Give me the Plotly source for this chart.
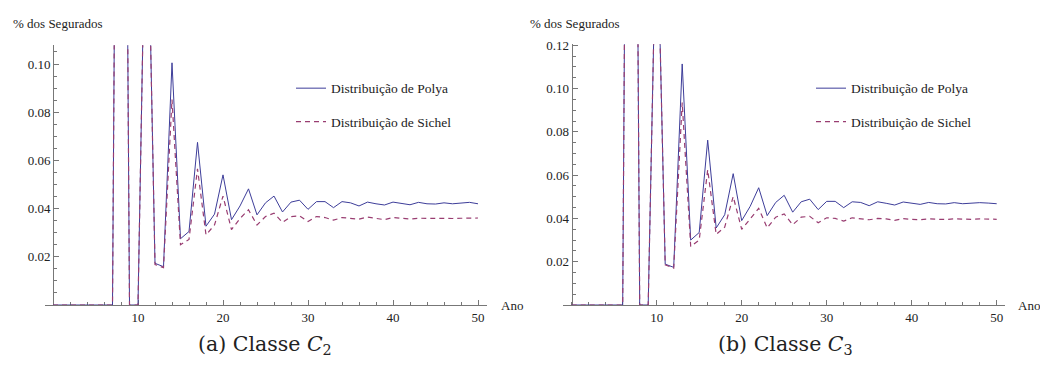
import plotly.graph_objects as go

# ---------------- data ----------------
anos = list(range(0, 51))

polya_c2 = [0, 0, 0, 0, 0, 0, 0, 0, 0.53, 0, 0, 0.195, 0.0173, 0.0159, 0.1005,
            0.0275, 0.0305, 0.0675, 0.0327, 0.0377, 0.054, 0.0354, 0.0411, 0.0482,
            0.0374, 0.0424, 0.0452, 0.0386, 0.0427, 0.0435, 0.0397, 0.0429, 0.0429,
            0.0404, 0.0429, 0.0424, 0.0411, 0.0427, 0.042, 0.0415, 0.0427, 0.0422,
            0.0416, 0.0426, 0.042, 0.0419, 0.0424, 0.042, 0.0422, 0.0426, 0.042]

sichel_c2 = [0, 0, 0, 0, 0, 0, 0, 0, 0.53, 0, 0, 0.195, 0.0168, 0.0155, 0.0853,
             0.025, 0.0272, 0.0565, 0.0291, 0.0332, 0.0452, 0.0313, 0.0359, 0.0395,
             0.0332, 0.0367, 0.0381, 0.0343, 0.0367, 0.037, 0.0346, 0.0367, 0.0363,
             0.0352, 0.0363, 0.036, 0.0356, 0.0365, 0.036, 0.0354, 0.0363, 0.0359,
             0.0357, 0.036, 0.0359, 0.0359, 0.036, 0.0359, 0.036, 0.0361, 0.0361]

polya_c3 = [0, 0, 0, 0, 0, 0, 0, 0.6, 0, 0, 0.19, 0.0189, 0.0174, 0.1114,
            0.030, 0.0335, 0.0762, 0.0356, 0.0417, 0.0607, 0.039, 0.0456, 0.0542,
            0.0413, 0.0474, 0.0507, 0.0429, 0.0477, 0.0489, 0.0441, 0.0479, 0.0479,
            0.045, 0.0477, 0.0474, 0.0459, 0.0477, 0.047, 0.0462, 0.0476, 0.0471,
            0.0465, 0.0474, 0.0468, 0.0467, 0.0473, 0.0468, 0.047, 0.0473, 0.0471, 0.0468]

sichel_c3 = [0, 0, 0, 0, 0, 0, 0, 0.6, 0, 0, 0.19, 0.0186, 0.017, 0.0936,
             0.027, 0.030, 0.0625, 0.0326, 0.036, 0.0501, 0.035, 0.0398, 0.0447,
             0.0356, 0.0406, 0.0421, 0.0371, 0.0406, 0.041, 0.038, 0.0403, 0.04,
             0.0388, 0.0403, 0.0398, 0.0394, 0.04, 0.0398, 0.0391, 0.0399, 0.0396,
             0.0394, 0.0398, 0.0395, 0.0395, 0.0398, 0.0396, 0.0396, 0.0398, 0.0396, 0.0396]

x_ticks = [10, 20, 30, 40, 50]
y_ticks_c2 = [0.02, 0.04, 0.06, 0.08, 0.10]
y_ticks_c3 = [0.02, 0.04, 0.06, 0.08, 0.10, 0.12]

# ---------------- layout helpers ----------------
W, H = 1040, 365
def px(x):
    return x / W
def py(y):
    return 1 - y / H

BLUE = "rgb(61,61,153)"
PURPLE = "rgb(153,61,113)"
AXC = "#777777"
TXT = "#222222"
SERIF = "'Liberation Serif', 'Times New Roman', Times, serif"
CAPF = "'DejaVu Serif', serif"

fig = go.Figure()

fig.add_trace(go.Scatter(x=anos, y=polya_c2, mode="lines", name="Distribuição de Polya",
                         line=dict(color=BLUE, width=1), xaxis="x", yaxis="y",
                         legend="legend", legendgroup="a1"))
fig.add_trace(go.Scatter(x=anos, y=sichel_c2, mode="lines", name="Distribuição de Sichel",
                         line=dict(color=PURPLE, width=1.2, dash="5px,4px"), xaxis="x", yaxis="y",
                         legend="legend", legendgroup="a2"))
fig.add_trace(go.Scatter(x=anos, y=polya_c3, mode="lines", name="Distribuição de Polya",
                         line=dict(color=BLUE, width=1), xaxis="x2", yaxis="y2",
                         legend="legend2", legendgroup="b1"))
fig.add_trace(go.Scatter(x=anos, y=sichel_c3, mode="lines", name="Distribuição de Sichel",
                         line=dict(color=PURPLE, width=1.2, dash="5px,4px"), xaxis="x2", yaxis="y2",
                         legend="legend2", legendgroup="b2"))

def xaxis_cfg(x0):
    return dict(
        domain=[px(x0 - 8.5), px(x0 + 51 * 8.5)], range=[-1, 51],
        showline=True, linecolor=AXC, linewidth=1, showgrid=False, zeroline=False,
        tickmode="array", tickvals=x_ticks, ticks="inside", ticklen=5, tickcolor=AXC,
        tickfont=dict(family=SERIF, size=13, color=TXT),
        minor=dict(tickmode="linear", tick0=0, dtick=2, ticks="inside", ticklen=3, tickcolor=AXC),
        layer="below traces", fixedrange=True,
    )

def yaxis_cfg(x0, ymax, scale, ticks):
    return dict(
        domain=[py(304), py(304 - ymax * scale)], range=[0, ymax],
        anchor="free", position=px(x0),
        showline=True, linecolor=AXC, linewidth=1, showgrid=False, zeroline=False,
        tickmode="array", tickvals=ticks, ticktext=["%.2f" % t for t in ticks],
        ticks="inside", ticklen=5, tickcolor=AXC,
        tickfont=dict(family=SERIF, size=13, color=TXT),
        minor=dict(tickmode="linear", tick0=0, dtick=0.005, ticks="inside", ticklen=3, tickcolor=AXC),
        layer="below traces", fixedrange=True,
    )

xa = xaxis_cfg(53); xa["anchor"] = "y"
xb = xaxis_cfg(571.7); xb["anchor"] = "y2"
ya = yaxis_cfg(53, 0.1078, 2450, y_ticks_c2)
yb = yaxis_cfg(571.7, 0.1205, 2200, y_ticks_c3)

legend_common = dict(
    xanchor="left", yanchor="top", bgcolor="rgba(0,0,0,0)", borderwidth=0,
    font=dict(family=SERIF, size=13.5, color=TXT), tracegroupgap=13,
)

fig.update_layout(
    width=W, height=H, margin=dict(l=0, r=0, t=0, b=0),
    paper_bgcolor="white", plot_bgcolor="white",
    xaxis=xa, yaxis=ya, xaxis2=xb, yaxis2=yb,
    showlegend=True,
    legend=dict(x=px(291), y=py(68), **legend_common),
    legend2=dict(x=px(811), y=py(68), **legend_common),
)

def ann(text, x, y, xanchor="left", size=13, family=SERIF):
    fig.add_annotation(text=text, x=px(x), y=py(y), xref="paper", yref="paper",
                       xanchor=xanchor, yanchor="middle", showarrow=False,
                       font=dict(family=family, size=size, color=TXT))

ann("% dos Segurados", 11, 18)
ann("% dos Segurados", 528, 18)
ann("Ano", 499, 305)
ann("Ano", 1016, 305)
ann("(a) Classe <i>C</i><sub>2</sub>", 265, 345, xanchor="center", size=20.5, family=CAPF)
ann("(b) Classe <i>C</i><sub>3</sub>", 785, 345, xanchor="center", size=20.5, family=CAPF)

fig.write_html("out.html")
